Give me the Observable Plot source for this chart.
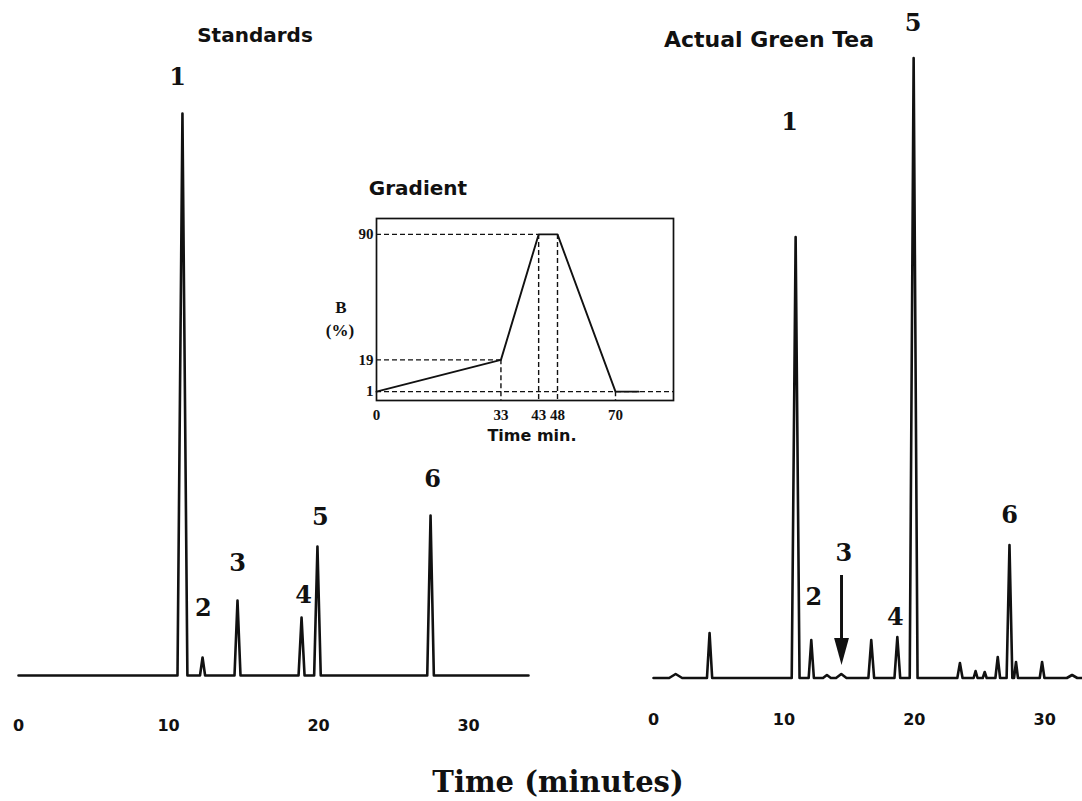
<!DOCTYPE html>
<html><head><meta charset="utf-8">
<script src="https://cdn.jsdelivr.net/npm/d3@7"></script>
<script src="https://cdn.jsdelivr.net/npm/@observablehq/plot@0.6"></script>
<style>
html,body{margin:0;padding:0;background:#fff;}
#fig{position:relative;width:1082px;height:801px;overflow:hidden;background:#fff;}
.pos{position:absolute;transform:translate(-50%,-50%);white-space:nowrap;color:#111;line-height:1;}
.sans{font-family:"DejaVu Sans",sans-serif;font-weight:bold;}
.serif{font-family:"Liberation Serif",serif;font-weight:bold;}
.bookman{font-family:"DejaVu Serif",serif;font-weight:bold;}
.panel{position:absolute;top:0;}
svg{overflow:visible;}
</style></head><body><div id="fig"></div>
<script>
// ---------- data ----------
// Standards chromatogram: retention time (min), peak height (mAU), half base width (min)
const stdPeakTimes   = [10.93, 12.27, 14.6, 18.87, 19.93, 27.47];
const stdPeakHeights = [562, 18, 75, 58, 129, 160];
const stdPeakWidths  = [0.33, 0.17, 0.2, 0.2, 0.22, 0.22];
const stdLabels      = ["1", "2", "3", "4", "5", "6"];
const stdLabelTimes  = [10.6, 12.33, 14.6, 19.0, 20.13, 27.6];
const stdLabelLevels = [598, 67, 112, 80, 158, 196];

// Actual green tea chromatogram
const teaPeakTimes   = [1.7, 4.3, 10.9, 12.1, 13.3, 14.4, 16.7, 18.7, 19.95, 23.5, 24.7, 25.4, 26.4, 27.3, 27.8, 29.8, 32.1];
const teaPeakHeights = [4, 45, 441, 38, 3, 4, 38, 41, 620, 15, 7, 6, 21, 133, 16, 16, 3];
const teaPeakWidths  = [0.5, 0.2, 0.3, 0.2, 0.3, 0.4, 0.22, 0.22, 0.3, 0.2, 0.15, 0.15, 0.18, 0.22, 0.15, 0.18, 0.4];
const teaBaseline    = -2.5;
const teaLabels      = ["1", "5", "2", "3", "4", "6"];
const teaLabelTimes  = [10.43, 19.9, 12.3, 14.6, 18.55, 27.3];
const teaLabelLevels = [553, 652, 78, 122, 58, 160];
const teaArrowTime   = 14.42;
const teaArrowFrom   = 100;
const teaArrowHead   = 24;

const stdTimeDomain = [0, 34];
const teaTimeDomain = [0, 32.9];
const signalDomain  = [0, 675];
const timeTicks     = [0, 10, 20, 30];

// Gradient inset: time (min) vs %B
const gradTimes  = [0, 33, 43, 48, 70, 76];
const gradB      = [1, 19, 90, 90, 1, 1];
const gradXTicks = [0, 33, 43, 48, 70];
const gradYTicks = [1, 19, 90];
const gradXDomain = [0, 48, 70, 85];   // hand-drawn, non-uniform time axis
const gradYDomain = [-4, 99];

// ---------- helpers ----------
function trace(times, heights, widths, domain, base) {
  const idx = d3.range(times.length).sort((a, b) => times[a] - times[b]);
  const pts = [{t: domain[0], v: base}];
  for (const i of idx) {
    pts.push({t: times[i] - widths[i], v: base});
    pts.push({t: times[i], v: base + heights[i]});
    pts.push({t: times[i] + widths[i], v: base});
  }
  pts.push({t: domain[1], v: base});
  return pts;
}
const labelRows = (labels, ts, vs) => labels.map((l, i) => ({label: l, t: ts[i], v: vs[i]}));

const fig = document.getElementById("fig");
function place(node, left, top) {
  const d = document.createElement("div");
  d.className = "panel"; d.style.left = left + "px"; d.style.top = top + "px";
  d.appendChild(node); fig.appendChild(d);
}
function label(text, cls, x, y, size) {
  const d = document.createElement("div");
  d.className = "pos " + cls; d.textContent = text;
  d.style.left = x + "px"; d.style.top = y + "px"; d.style.fontSize = size + "px";
  fig.appendChild(d);
}

const lineStyle = {stroke: "#111", strokeWidth: 2.6, strokeLinejoin: "round", strokeLinecap: "round"};
const peakFont = {fontFamily: "DejaVu Serif", fontSize: 24, fontWeight: "bold", fill: "#111"};
const axisStyle = {fontFamily: "DejaVu Sans", fontSize: "16px", fontWeight: "bold", background: "transparent", color: "#111"};

// ---------- left: standards ----------
const left = Plot.plot({
  width: 540, height: 760, marginLeft: 18, marginRight: 12, marginTop: 0, marginBottom: 85,
  x: {domain: stdTimeDomain, ticks: timeTicks, tickSize: 0, tickPadding: 44, label: null},
  y: {domain: signalDomain, axis: null},
  style: axisStyle,
  marks: [
    Plot.line(trace(stdPeakTimes, stdPeakHeights, stdPeakWidths, stdTimeDomain, 0), {x: "t", y: "v", ...lineStyle}),
    Plot.text(labelRows(stdLabels, stdLabelTimes, stdLabelLevels), {x: "t", y: "v", text: "label", ...peakFont})
  ]
});
place(left, 0, 0);

// ---------- right: actual green tea ----------
const headSymbol = {
  draw(ctx, size) {
    const k = Math.sqrt(size / Math.PI);
    ctx.moveTo(-0.55 * k, -k); ctx.lineTo(0.55 * k, -k); ctx.lineTo(0, k); ctx.closePath();
  }
};
const right = Plot.plot({
  width: 542, height: 760, marginLeft: 113, marginRight: 0, marginTop: 0, marginBottom: 85,
  x: {domain: teaTimeDomain, ticks: timeTicks, tickSize: 0, tickPadding: 38, label: null},
  y: {domain: signalDomain, axis: null},
  style: axisStyle,
  marks: [
    Plot.line(trace(teaPeakTimes, teaPeakHeights, teaPeakWidths, teaTimeDomain, teaBaseline), {x: "t", y: "v", ...lineStyle}),
    Plot.text(labelRows(teaLabels, teaLabelTimes, teaLabelLevels), {x: "t", y: "v", text: "label", ...peakFont}),
    Plot.ruleX([teaArrowTime], {x: d => d, y1: teaArrowFrom, y2: teaArrowHead, stroke: "#111", strokeWidth: 3}),
    Plot.dot([teaArrowTime], {x: d => d, y: teaArrowHead, symbol: headSymbol, r: 13.5, fill: "#111", stroke: "none"})
  ]
});
place(right, 540, 0);

// ---------- inset: gradient ----------
const dash = {stroke: "#111", strokeWidth: 1.4, strokeDasharray: "5,3"};
const levelRows = [...new Set(gradB)].map(b => ({
  b, t2: b === gradB[0] ? gradXDomain[gradXDomain.length - 1] : gradTimes[gradB.indexOf(b)]
}));
const dropRows = gradXTicks.filter(t => t > 0).map(t => ({t, b: gradB[gradTimes.indexOf(t)]}));
const inset = Plot.plot({
  width: 360, height: 300, marginLeft: 46, marginRight: 17, marginTop: 58, marginBottom: 60,
  x: {type: "linear", domain: gradXDomain, range: [46, 227, 285, 343], ticks: gradXTicks, tickSize: 0, tickPadding: 9, label: null},
  y: {domain: gradYDomain, ticks: gradYTicks, tickSize: 0, tickPadding: 3, label: null},
  style: {fontFamily: "Liberation Serif", fontSize: "15px", fontWeight: "bold", background: "transparent", color: "#111"},
  marks: [
    Plot.ruleY(levelRows, {y: "b", x1: gradXDomain[0], x2: "t2", ...dash}),
    Plot.ruleX(dropRows, {x: "t", y1: "b", y2: gradYDomain[0], ...dash}),
    Plot.line(gradTimes.map((t, i) => ({t, b: gradB[i]})), {x: "t", y: "b", stroke: "#111", strokeWidth: 1.9}),
    Plot.frame({stroke: "#111", strokeWidth: 1.7})
  ]
});
place(inset, 330, 160);

// ---------- text ----------
label("Standards", "sans", 255, 35, 20);
label("Actual Green Tea", "sans", 769, 40, 22);
label("Gradient", "sans", 418, 188, 20);
label("B", "serif", 341, 307, 17);
label("(%)", "serif", 340, 330, 17);
label("Time min.", "sans", 532, 436, 16);
label("Time (minutes)", "bookman", 558, 782, 29);
</script></body></html>
